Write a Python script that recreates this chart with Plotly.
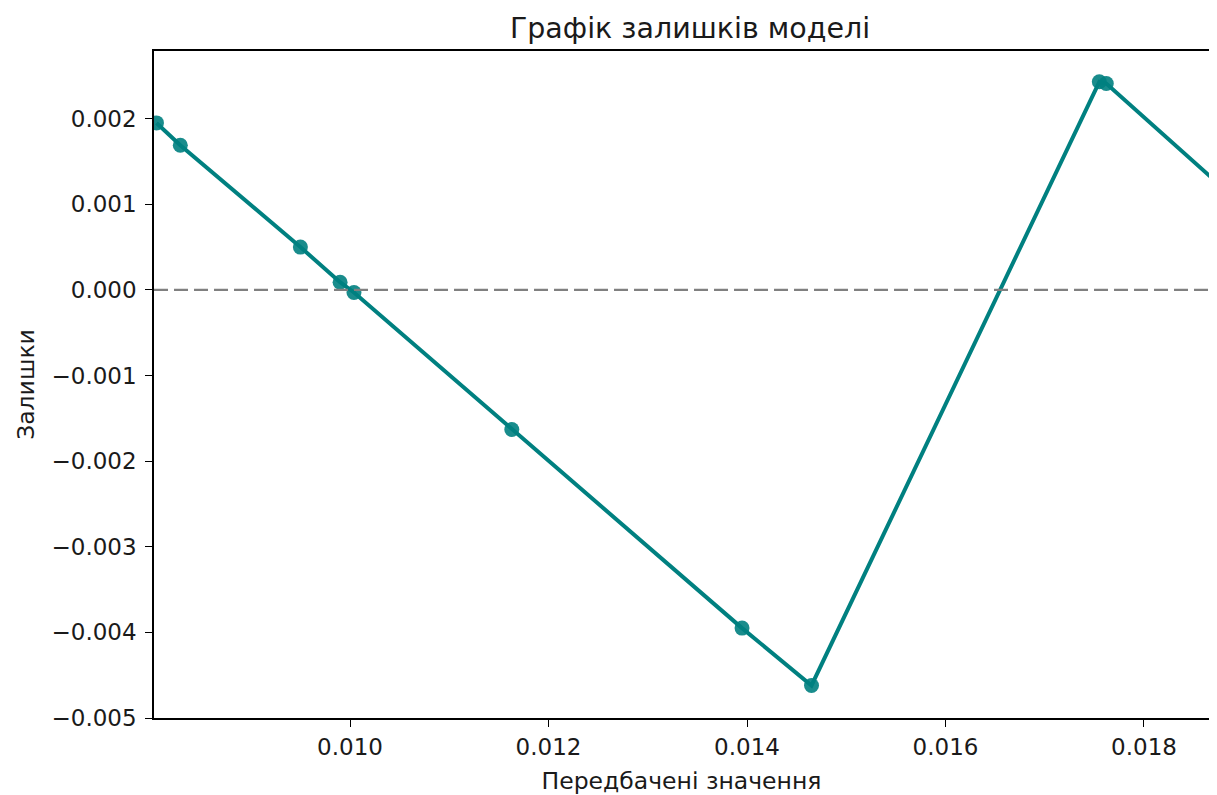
import plotly.graph_objects as go

# Data
predicted = [0.00805, 0.00829, 0.00950, 0.00990, 0.01004, 0.01163, 0.01395, 0.01465, 0.01755, 0.01762, 0.01900]
residuals = [0.00195, 0.00169, 0.00050, 0.00009, -0.00003, -0.00163, -0.00395, -0.00462, 0.00243, 0.00241, 0.00098]

x_ticks = [0.010, 0.012, 0.014, 0.016, 0.018]
y_ticks = [-0.005, -0.004, -0.003, -0.002, -0.001, 0.000, 0.001, 0.002]

title_text = "Графік залишків моделі"
x_label = "Передбачені значення"
y_label = "Залишки"

teal = "#008080"
font = "DejaVu Sans"

fig = go.Figure()
fig.add_trace(go.Scatter(
    x=predicted, y=residuals, mode="lines+markers",
    line=dict(color=teal, width=4),
    marker=dict(color=teal, size=15, opacity=0.9),
    showlegend=False, cliponaxis=True,
))
fig.add_hline(y=0, line=dict(color="gray", width=2.2, dash="14px,6px"))

# page body adds a small margin around the figure
fig.update_layout(
    width=1201, height=787,
    margin=dict(l=146, r=0, t=43, b=77),
    paper_bgcolor="white", plot_bgcolor="white",
    font=dict(family=font, size=22, color="#1a1a1a"),
    title=dict(text=title_text, x=682/1201, xanchor="center", xref="container",
               y=1 - 20/787, yanchor="middle", font=dict(size=28.5, family=font)),
)
fig.update_xaxes(
    range=[0.008025, 0.018655], tickvals=x_ticks, tickformat=".3f",
    showgrid=False, zeroline=False, showline=True, linecolor="black", linewidth=1.5,
    mirror=True, ticks="outside", ticklen=7, tickwidth=1.3, tickcolor="black",
    ticklabelstandoff=1,
    title=dict(text=x_label, font=dict(size=23.5), standoff=13),
    tickfont=dict(size=23),
)
fig.update_yaxes(
    range=[-0.005, 0.00279], tickvals=y_ticks, tickformat=".3f",
    showgrid=False, zeroline=False, showline=True, linecolor="black", linewidth=1.5,
    ticks="outside", ticklen=7, tickwidth=1.3, tickcolor="black",
    ticklabelstandoff=4,
    title=dict(text=y_label, font=dict(size=23.5), standoff=10),
    tickfont=dict(size=23),
)

fig.write_html("out.html")
